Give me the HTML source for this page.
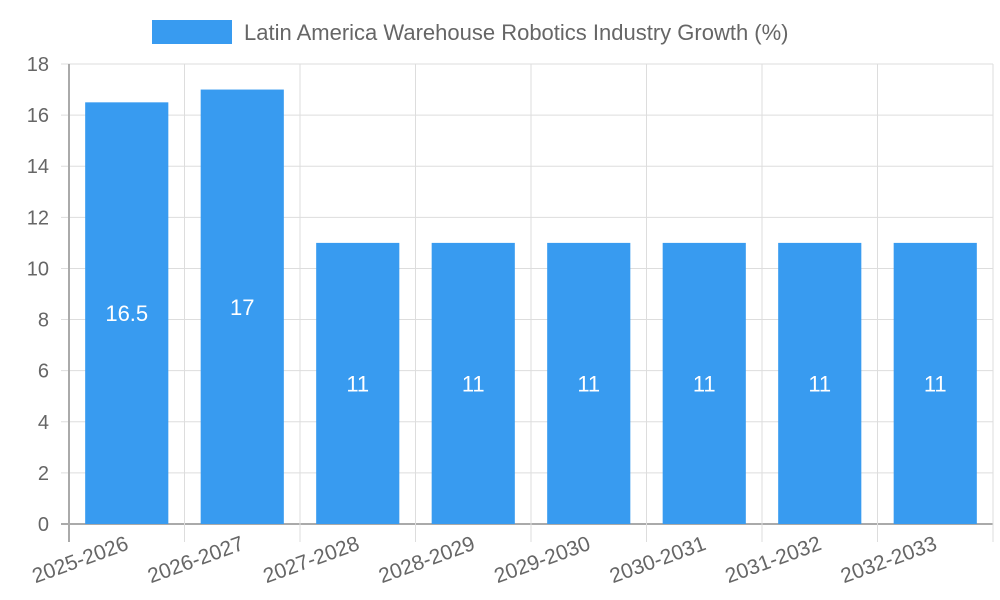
<!DOCTYPE html>
<html><head><meta charset="utf-8"><style>
body{margin:0;background:#fff;}
svg{display:block;font-family:"Liberation Sans",sans-serif;}
</style></head><body>
<svg id="chart" width="1000" height="600">
<g>
<rect x="152" y="20" width="80" height="24" fill="#389bf0"/>
<text x="244" y="40" font-size="22" fill="#666">Latin America Warehouse Robotics Industry Growth (%)</text>
</g>
<g id="grid"></g><g id="bars"></g><g id="axes"></g>
</svg>
<script>
const categories=["2025-2026","2026-2027","2027-2028","2028-2029","2029-2030","2030-2031","2031-2032","2032-2033"];
const values=[16.5,17,11,11,11,11,11,11];
const yTicks=[0,2,4,6,8,10,12,14,16,18];
const NS="http://www.w3.org/2000/svg";
const X0=69,X1=993,Y0=524,Y1=64,YMAX=18;
const bw=(X1-X0)/categories.length;
const y=v=>Y0-(v/YMAX)*(Y0-Y1);
const x=i=>X0+bw*i;
function mk(parent,tag,attrs,text){const e=document.createElementNS(NS,tag);for(const k in attrs)e.setAttribute(k,attrs[k]);if(text!==undefined)e.textContent=text;document.getElementById(parent).appendChild(e);return e;}
yTicks.forEach(t=>{
 const l=mk("grid","line",{x1:X0-8,x2:X1,y1:y(t),y2:y(t),stroke:t===0?"#aaa":"#ddd","stroke-width":t===0?2:1});
 
 
 const tx=mk("axes","text",{x:X0-20,y:y(t)+7,"font-size":20,fill:"#666","text-anchor":"end"},String(t));
 
 
});
for(let i=0;i<=categories.length;i++){
 const l=mk("grid","line",{x1:x(i),x2:x(i),y1:Y1,y2:Y0+18,stroke:i===0?"#aaa":"#ddd","stroke-width":i===0?2:1});
 
 
}
categories.forEach((c,i)=>{
 const cx=x(i)+bw/2,w=bw*0.72;
 const r=mk("bars","rect",{x:cx-w/2,y:y(values[i]),width:w,height:Y0-y(values[i]),fill:"#389bf0"});
 
 
 const v=mk("bars","text",{x:cx,y:(y(values[i])+Y0)/2+8,"font-size":22,fill:"#fff","text-anchor":"middle"},String(values[i]));
 
 
 const t=mk("axes","text",{x:0,y:0,"font-size":21,fill:"#666","text-anchor":"end",transform:`translate(${cx+3},${549}) rotate(-20)`},c);
 
 
});
</script>
</body></html>
